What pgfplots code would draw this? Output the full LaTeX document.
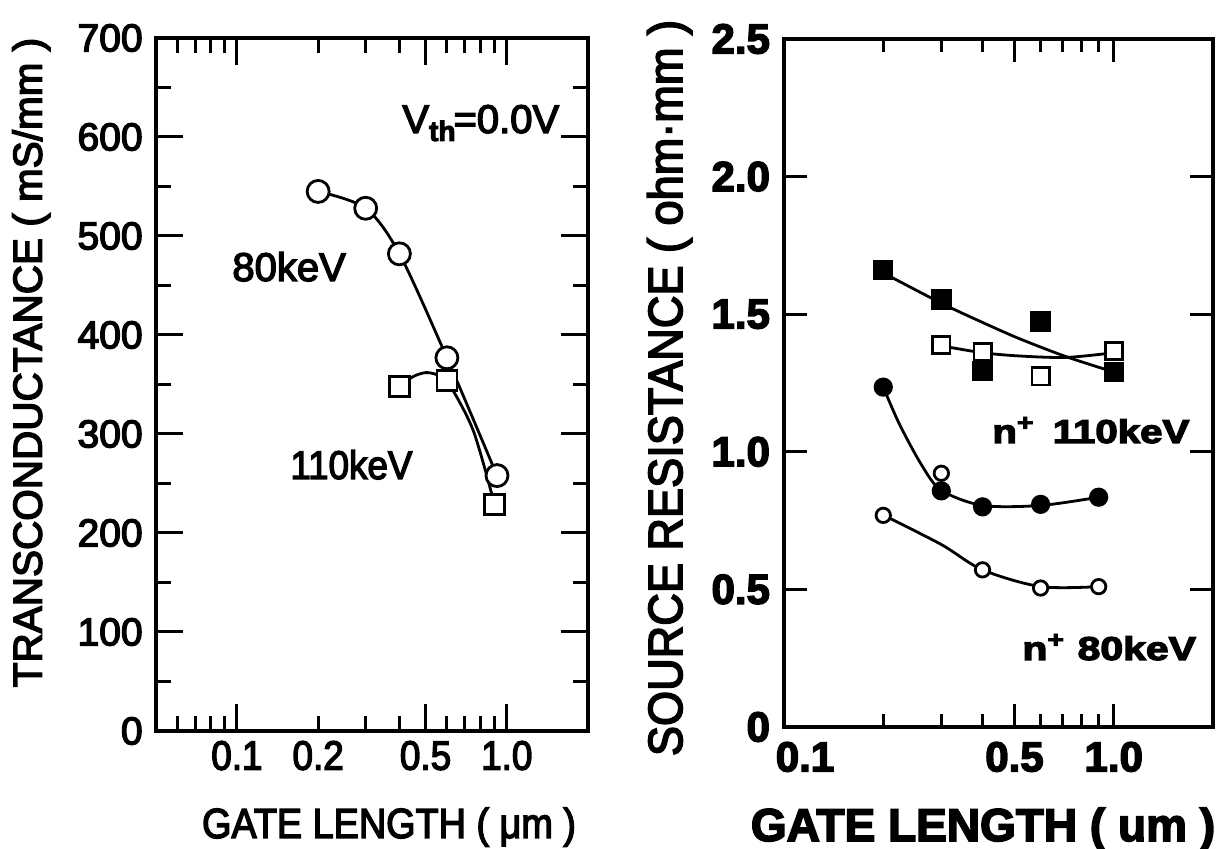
\documentclass[border=0pt]{standalone}
\usepackage{fontspec}
\setmainfont{Liberation Sans}[FakeBold=3.5]
\usepackage{graphicx}
\usepackage{pgfplots}
\pgfplotsset{compat=1.18}
\newcommand{\fs}[1]{\fontsize{#1}{#1}\selectfont}
\newcommand{\cx}[1]{\scalebox{0.9}[1]{#1}}

\begin{document}
\begin{tikzpicture}
\useasboundingbox (0,0) rectangle (609pt,424.5pt);
% ---------------- left panel ----------------
\begin{axis}[
  at={(77.85pt,59pt)}, anchor=south west,
  scale only axis, width=216.15pt, height=346.5pt,
  xmode=log, xmin=0.05, xmax=2, ymin=0, ymax=700,
  axis line style={line width=2pt},
  tick align=inside, xtick pos=both, ytick pos=both,
  tick style={line width=1.5pt, black},
  major tick length=13.5pt, minor tick length=7.5pt,
  xtick={0.1,0.5,1}, xticklabels={\cx{0.1},\cx{0.5},\cx{1.0}},
  extra x ticks={0.2}, extra x tick labels={\cx{0.2}},
  extra x tick style={major tick length=7.5pt},
  minor xtick={0.06,0.07,0.08,0.09,0.3,0.4,0.6,0.7,0.8,0.9},
  ytick={0,100,200,300,400,500,600,700},
  yticklabels={0,100,200,300,400,500,600,700},
  minor ytick={50,150,250,350,450,550,650},
  xticklabel style={font=\fs{20.5}, yshift=-1.5pt},
  yticklabel style={font=\fs{19.5}, xshift=-3pt},
  clip=false,
]
% 80 keV fit curve
\addplot[black, line width=1.4pt, smooth] coordinates {
  (0.2,545) (0.3,528) (0.4,482) (0.6,377) (0.92,258)};
% 110 keV fit curve
\addplot[black, line width=1.4pt, smooth] coordinates {
  (0.4,348) (0.45,358) (0.5,362) (0.55,360) (0.6,354) (0.75,304) (0.9,229)};
% 80 keV data
\addplot[black, only marks, mark=*, mark size=5.5pt,
  mark options={fill=white, line width=1.4pt}] coordinates {
  (0.2,545) (0.3,528) (0.4,482) (0.6,377) (0.92,258)};
% 110 keV data
\addplot[black, only marks, mark=square*, mark size=5pt,
  mark options={fill=white, line width=1.4pt}] coordinates {
  (0.4,348) (0.6,354) (0.9,229)};
\end{axis}
% ---------------- right panel ----------------
\begin{axis}[
  at={(392pt,61pt)}, anchor=south west,
  scale only axis, width=214.5pt, height=344pt,
  xmode=log, xmin=0.1, xmax=2, ymin=0, ymax=2.5,
  axis line style={line width=2pt},
  tick align=inside, xtick pos=both, ytick pos=both,
  tick style={line width=1.5pt, black},
  major tick length=11.5pt, minor tick length=6.5pt,
  xtick={0.1,0.5,1}, xticklabels={\hspace*{21pt}0.1,0.5,1.0},
  minor xtick={0.2,0.3,0.4,0.6,0.7,0.8,0.9},
  ytick={0,0.5,1,1.5,2,2.5},
  yticklabels={0,0.5,1.0,1.5,2.0,2.5},
  xticklabel style={font=\fs{21}\bfseries, yshift=-4pt},
  yticklabel style={font=\fs{21}\bfseries, xshift=-3.5pt},
  clip=false,
]
% fits
\addplot[black, line width=1.4pt, smooth] coordinates {
  (0.2,1.65) (0.3,1.54) (0.4,1.47) (0.52,1.41) (0.72,1.345) (1.0,1.29)};
\addplot[black, line width=1.4pt, smooth] coordinates {
  (0.3,1.385) (0.4,1.36) (0.52,1.348) (0.72,1.343) (1.0,1.36)};
\addplot[black, line width=1.4pt, smooth] coordinates {
  (0.2,1.235) (0.224,1.10) (0.262,0.95) (0.3,0.86) (0.4,0.805) (0.6,0.805) (0.9,0.835)};
\addplot[black, line width=1.4pt, smooth] coordinates {
  (0.2,0.77) (0.3,0.663) (0.4,0.571) (0.6,0.51) (0.9,0.51)};
% filled squares
\addplot[black, only marks, mark=square*, mark size=4.6pt,
  mark options={fill=black, line width=1pt}] coordinates {
  (0.2,1.66) (0.3,1.553) (0.4,1.294) (0.6,1.473) (1.0,1.29)};
% open squares
\addplot[black, only marks, mark=square*, mark size=4.3pt,
  mark options={fill=white, line width=1.4pt}] coordinates {
  (0.3,1.387) (0.4,1.362) (0.6,1.274) (1.0,1.367)};
% filled circles
\addplot[black, only marks, mark=*, mark size=4.3pt,
  mark options={fill=black, line width=1pt}] coordinates {
  (0.2,1.235) (0.3,0.858) (0.4,0.80) (0.6,0.809) (0.9,0.835)};
% open circles
\addplot[black, only marks, mark=*, mark size=3.6pt,
  mark options={fill=white, line width=1.4pt}] coordinates {
  (0.2,0.769) (0.3,0.922) (0.4,0.571) (0.6,0.505) (0.9,0.51)};
\end{axis}
% ---------------- texts ----------------
\node[anchor=base west, font=\fs{20}, inner sep=0] at (201pt,358pt)
  {V\raisebox{-4pt}{\fs{14}\bfseries th}\kern-1pt=0.0V};
\node[anchor=base west, font=\fs{20}, inner sep=0] at (116pt,284pt) {80keV};
\node[anchor=base west, font=\fs{20}, inner sep=0] at (145pt,185pt) {\scalebox{0.92}[1]{110keV}};
\node[anchor=base west, font=\fs{16.5}\bfseries, inner sep=0] at (496pt,203pt)
  {\scalebox{1.22}[1]{n\textsuperscript{+}\hspace{0.45em}110keV}};
\node[anchor=base west, font=\fs{16.5}\bfseries, inner sep=0] at (511pt,94.5pt)
  {\scalebox{1.24}[1]{n\textsuperscript{+}\hspace{0.3em}80keV}};
\node[rotate=90, anchor=base, font=\fs{20.25}, inner sep=0] at (20.85pt,243.25pt)
  {TRANSCONDUCTANCE ( mS/mm )};
\node[rotate=90, anchor=base, font=\fs{24}, inner sep=0] at (341pt,230.5pt)
  {\scalebox{0.94}[1]{SOURCE RESISTANCE ( ohm·mm )}};
\node[anchor=base, font=\fs{21}, inner sep=0] at (194.5pt,5.5pt)
  {\scalebox{0.9}[1]{GATE LENGTH ( μm )}};
\node[anchor=base, font=\fs{23}\bfseries, inner sep=0] at (491.5pt,4pt)
  {GATE LENGTH ( um )};
\end{tikzpicture}
\end{document}
